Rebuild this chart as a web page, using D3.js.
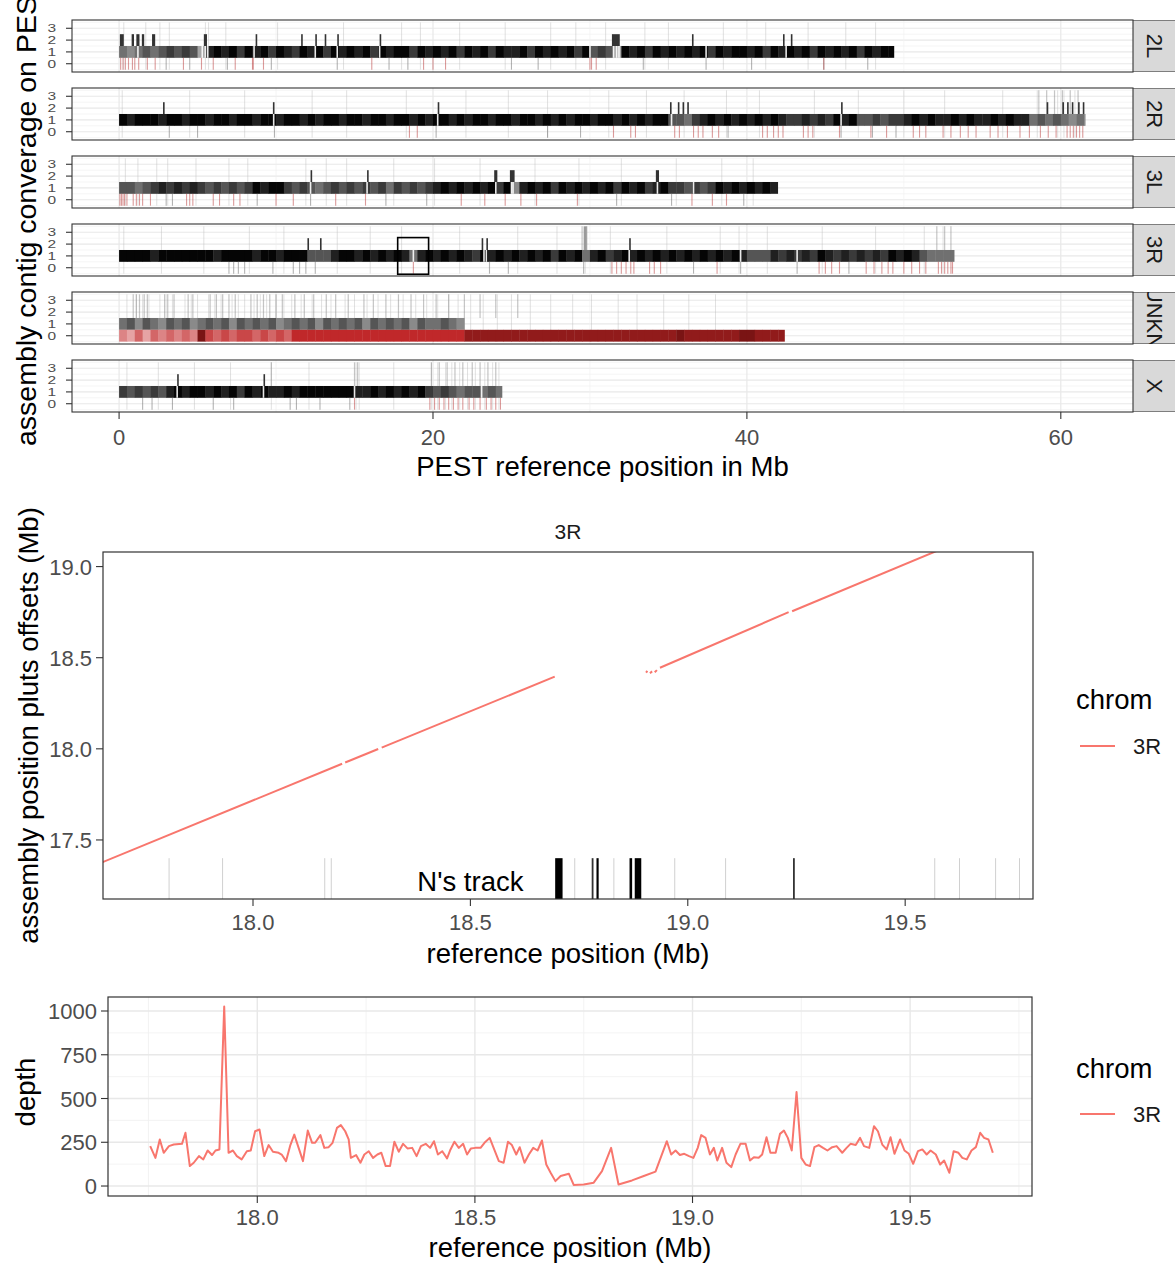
<!DOCTYPE html>
<html lang="en">
<head>
<meta charset="utf-8">
<title>assembly contig coverage / 3R</title>
<script src="https://d3js.org/d3.v7.min.js"></script>
<style>
  body { margin: 0; background: #fff; }
  svg text { font-family: "Liberation Sans", Arial, Helvetica, sans-serif; }
</style>
</head>
<body>
<svg id="chart" width="1175" height="1263"></svg>
<script>
// ---------- top panel: coverage per chromosome ----------
var chroms = ["2L", "2R", "3L", "3R", "UNKN", "X"];
var chromLen = [49.36, 61.55, 41.96, 53.20, 42.39, 24.39];

// shade of the coverage=1 band, one digit per 0.5 Mb (0 none .. 9 black)
var band1Shade = [
  "5456567676" + "3898979897" + "9879897989" + "8979899798" + "9897989798" + "8979898979" + "6763989798" + "9898979899" + "8979898979" + "898979899",
  "9899989989" + "9899899899" + "8998989989" + "9899899898" + "9989899899" + "8998989899" + "8998989899" + "6657898989" + "8989877878" + "7989667677" + "8989889898" + "8989885656" + "5454",
  "6656787878" + "7676767989" + "9767656767" + "6767576767" + "8989898979" + "4898979898" + "9897989789" + "7767679898" + "9898",
  "9999899999" + "9989999899" + "8999666899" + "8989898589" + "8989879898" + "9898979895" + "8978989898" + "9898989898" + "6668787879" + "8787878798" + "9865555",
  "5646546564" + "5656465656" + "4565646565" + "6465656465" + "5654",
  "7676768989" + "9898979898" + "8989999999" + "8898989897" + "676566565"
];
// shade of the coverage=0 (red) band, 0.5 Mb bins
var band0Shade = ["", "", "", "",
  "3242434343" + "9545455454" + "5466666666" + "6666666666" + "6666888888" + "8888888888" + "8888888888" + "8988888889" + "98888",
  ""];

// coverage 2 / 3 blocks: [start, end, level]
var lvl2Ticks = [
  [[0.05,0.3,2],[0.8,0.95,2],[1.1,1.3,2],[1.45,1.6,2],[2.1,2.3,2],[5.4,5.6,2],[8.7,8.75,2],[11.6,11.65,2],[12.5,12.55,2],[13.1,13.15,2],[13.9,13.95,2],[16.6,16.65,2],[31.4,31.9,2],[36.5,36.55,2],[42.3,42.35,2],[42.8,42.85,2]],
  [[2.8,2.85,2],[9.8,9.85,2],[20.3,20.35,2],[35.1,35.15,2],[35.6,35.65,2],[35.9,35.95,2],[36.2,36.25,2],[46.0,46.05,2],[59.1,59.15,2],[60.1,60.15,2],[60.4,60.45,2],[60.7,60.75,2],[61.1,61.15,2],[61.4,61.45,2]],
  [[12.2,12.3,2],[15.8,15.85,2],[23.9,24.1,2],[24.9,25.2,2],[34.2,34.4,2]],
  [[12.0,12.05,2],[12.8,12.85,2],[23.1,23.15,2],[23.4,23.45,2],[29.6,29.8,3],[32.5,32.55,2]],
  [],
  [[3.7,3.75,2],[9.2,9.25,2]]
];
// white breaks in the coverage=1 band
var gapTicks = [
  [1.2,5.3,5.5,5.65,8.6,12.5,13.9,16.6,30.0,31.5,31.7,31.85,37.4,42.5],
  [9.85,20.3,35.2,46.0],
  [12.2,15.8,24.0,25.0,25.1,34.3,36.6],
  [18.75,23.25,23.4,32.5,39.6,43.2],
  [],
  [3.7,9.2,15.0,23.1]
];
// coverage 0 ticks, red and grey
var lvl0Red = [
  [0.1,0.25,0.4,0.6,0.85,1.0,1.25,1.8,2.3,4.1,5.25,6.0,7.4,8.5,8.55,9.2,16.1,19.4,20.0,20.8,30.0,30.1,30.4,44.9],
  [18.5,19.0,31.5,32.6,32.9,35.4,35.7,36.6,36.9,37.2,37.8,38.2,41.0,41.3,41.7,42.0,42.3,43.6,43.9,44.2,45.9,47.9,48.9,50.6,51.0,51.4,52.5,53.0,53.6,54.1,54.6,55.5,56.0,56.6,57.4,58.0,58.7,59.2,59.7,60.4,60.6,60.8,61.0,61.2,61.4],
  [0.05,0.15,0.25,0.35,0.5,0.9,1.1,1.3,1.5,2.0,4.3,4.5,4.7,6.0,6.4,7.3,7.7,10.0,11.1,13.8,15.7,21.8,23.3,24.6,25.6,26.6,29.2,36.5,37.8,38.7],
  [18.75,31.4,31.7,32.0,32.3,32.6,32.8,33.8,34.1,34.5,38.1,44.6,45.0,45.4,45.9,47.6,48.1,48.6,49.0,49.3,50.0,50.5,51.0,51.4,52.2,52.4,52.6,52.8,53.0,53.1],
  [],
  [15.0,19.8,20.1,20.4,20.7,21.0,21.3,21.6,21.9,22.3,22.6,23.0,23.4,23.7,24.0,24.3]
];
var lvl0Gray = [
  [3.0,4.5,6.9,9.7,13.9,17.2,18.4,25.0,26.7,33.4,37.4,40.3,44.9,47.7],
  [3.2,5.0,9.9,20.2,27.3,29.4,38.8,46.0,48.0,49.5],
  [3.0,3.4,8.8,12.2,17.0,19.6,31.7,35.2,39.8],
  [7.0,7.3,7.6,8.0,9.8,11.1,11.5,11.9,12.5,23.6,24.8,29.6,36.6,39.6,43.2,46.5],
  [],
  [1.5,2.1,3.4,6.0,7.3,10.9,11.3,12.8,14.7]
];
// light lines over the whole facet height
var faintTicks = [
  [0.3,1.7,2.6,3.2,5.5,5.7,6.8,10.1,14.3,18.0,19.2,21.7,24.6,27.5,29.1,31.0,33.5,35.0,38.5,41.2,43.9,46.3,48.2],
  [0.2,4.5,8.0,12.3,14.5,18.3,22.1,24.8,27.3,31.2,33.6,36.0,38.7,40.8,44.3,47.1,50.0,52.6,56.3,58.5,59.8,60.2,60.9],
  [0.4,1.2,2.4,3.1,4.9,7.0,8.2,11.9,13.2,14.5,17.5,20.1,23.0,26.5,29.3,32.0,35.5,38.4,40.4],
  [0.3,2.7,5.4,8.3,10.5,13.9,16.0,18.0,21.7,25.4,27.9,29.7,31.3,34.9,38.3,39.5,41.3,44.8,48.2,51.3,52.5],
  [0.5,1.1,1.5,1.9,2.6,3.0,3.4,4.2,4.6,5.0,5.7,6.1,6.5,7.2,7.6,8.0,8.6,9.0,9.4,10.0,10.5,11.0,11.6,12.3,12.9,13.5,14.4,15.0,15.8,16.5,17.3,18.1,18.9,19.6,20.3,21.0,21.6,22.4,23.2,24.1,25.0,26.2,27.5,28.9,30.1,31.8,33.0,34.7,36.3,38.0],
  [0.5,2.5,4.8,7.1,9.7,12.1,15.1,15.3,17.5,19.9,20.3,20.8,21.2,21.7,22.2,22.7,23.3,23.8,24.2]
];
// greyish lines at coverage 2-3
var upFaint = [
  [],
  [58.6,59.1,59.6,60.1,60.6,61.1],
  [],
  [29.5,29.8,52.1,52.6,53.0],
  [0.9,1.1,1.3,1.6,1.8,2.9,3.1,3.5,4.4,4.7,5.8,6.2,6.6,7.0,7.4,8.4,8.8,9.2,9.6,10.0,10.4,11.2,11.8,12.4,13.2,13.8,14.6,15.6,16.2,17.0,17.8,18.6,19.4,20.2,21.0,22.0,23.0,24.0,25.4],
  [9.7,15.0,15.2,19.9,20.4,20.9,21.4,21.9,22.5,23.0,23.5,24.0]
];
var zoomBox = {chrom: "3R", x: [17.75, 19.72], y: [-0.55, 2.55]};
var topTicksX = [0, 20, 40, 60];
var topTicksY = [0, 1, 2, 3];

// ---------- middle panel: alignment on 3R ----------
var alignRef = [[17.60,18.205],[18.212,18.288],[18.296,18.694],[18.904,18.907],[18.913,18.918],[18.924,18.929],[18.936,19.232],[19.240,19.62]];
var alignAsm = [[17.325,17.918],[17.925,17.999],[18.007,18.396],[18.418,18.428],[18.415,18.425],[18.420,18.432],[18.445,18.750],[18.755,19.133]];
var nDark = [[18.695,18.712],[18.779,18.783],[18.790,18.795],[18.866,18.872],[18.878,18.893],[19.242,19.246]];
var nLight = [17.807,17.93,18.165,18.18,18.74,18.83,18.97,19.087,19.568,19.625,19.708,19.763];
var nTrackTop = 17.4;
var midTicksX = [18.0, 18.5, 19.0, 19.5];
var midTicksY = [17.5, 18.0, 18.5, 19.0];

// ---------- bottom panel: depth ----------
var depthPos = [17.754,17.766,17.776,17.785,17.797,17.808,17.827,17.835,17.845,17.854,
  17.866,17.876,17.886,17.896,17.904,17.913,17.924,17.934,17.944,17.953,
  17.964,17.976,17.985,17.995,18.005,18.016,18.026,18.036,18.049,18.056,
  18.066,18.076,18.085,18.095,18.105,18.116,18.126,18.133,18.145,18.154,
  18.164,18.173,18.183,18.192,18.202,18.210,18.215,18.227,18.237,18.246,
  18.256,18.266,18.276,18.285,18.295,18.305,18.315,18.325,18.335,18.345,
  18.356,18.366,18.376,18.387,18.397,18.406,18.415,18.425,18.436,18.444,
  18.453,18.463,18.473,18.482,18.491,18.501,18.513,18.522,18.534,18.543,
  18.555,18.566,18.576,18.585,18.595,18.603,18.614,18.624,18.634,18.644,
  18.654,18.664,18.674,18.685,18.697,18.716,18.727,18.750,18.773,18.792,
  18.813,18.830,18.861,18.888,18.915,18.941,18.951,18.961,18.971,18.981,
  18.992,19.002,19.012,19.020,19.030,19.040,19.049,19.057,19.068,19.078,
  19.089,19.099,19.110,19.122,19.132,19.141,19.152,19.160,19.170,19.179,
  19.191,19.201,19.210,19.219,19.228,19.239,19.250,19.260,19.270,19.280,
  19.290,19.300,19.310,19.321,19.331,19.344,19.354,19.363,19.375,19.385,
  19.394,19.406,19.417,19.426,19.436,19.446,19.455,19.464,19.477,19.487,
  19.497,19.507,19.518,19.528,19.538,19.547,19.559,19.569,19.578,19.590,
  19.600,19.611,19.620,19.630,19.641,19.651,19.661,19.670,19.680,19.690];
var depthVal = [228,161,266,190,228,237,241,304,114,133,
  171,152,203,177,203,209,1026,190,203,171,
  152,199,203,313,323,171,234,196,190,180,
  142,234,294,218,142,317,247,247,291,218,
  222,247,332,348,313,266,161,177,133,180,
  199,161,180,190,114,114,253,196,241,215,
  218,171,228,241,218,256,180,199,158,209,
  253,218,241,180,215,218,218,247,275,218,
  142,133,253,234,180,222,133,180,218,203,
  260,123,76,28,57,70,6,9,19,85,
  218,9,32,57,82,256,180,203,177,184,
  171,161,218,291,275,180,218,146,218,133,
  108,180,241,241,146,165,161,180,279,190,
  190,298,317,275,203,537,161,123,114,222,
  234,218,203,222,228,190,218,241,234,275,
  228,218,342,313,237,209,279,184,266,203,
  184,127,199,209,180,203,180,123,146,76,
  199,190,161,152,203,222,304,275,266,190];
var botTicksX = [18.0, 18.5, 19.0, 19.5];
var botTicksY = [0, 250, 500, 750, 1000];
var legendName = "chrom", legendKey = "3R";

var lineCol = "#F8766D";
var tickCol = "#4d4d4d";
var gridMajor = "#e8e8e8", gridMinor = "#f0f0f0";

var svg = d3.select("#chart");
var defs = svg.append("defs");
function clip(id, x, y, w, h) {
  defs.append("clipPath").attr("id", id).append("rect")
    .attr("x", x).attr("y", y).attr("width", w).attr("height", h);
}

// ================= TOP =================
var topX = d3.scaleLinear().domain([-3.0, 64.6]).range([72, 1133]);
var grayShade = d3.scaleLinear().domain([1, 9]).range(["#dadada", "#050505"]);
var redShade = d3.scaleLinear().domain([1, 6, 9]).range(["#efc2c2", "#c0282a", "#7a1414"]);

function bins(str, len) {
  return str.split("").map(function(d, k) {
    return {x0: k * 0.5, x1: Math.min((k + 1) * 0.5, len), v: +d};
  }).filter(function(d) { return d.v > 0 && d.x0 < len; });
}

chroms.forEach(function(name, i) {
  var top = 20 + i * 68, bot = top + 52;
  var y = d3.scaleLinear().domain([-0.7, 3.7]).range([bot, top]);
  var len = chromLen[i];
  clip("fc" + i, 72, top, 1061, 52);
  var g = svg.append("g").attr("clip-path", "url(#fc" + i + ")");

  g.selectAll(".hmin").data([-0.5, 0.5, 1.5, 2.5, 3.5]).enter().append("line")
    .attr("x1", 72).attr("x2", 1133).attr("y1", y).attr("y2", y)
    .attr("stroke", gridMinor).attr("stroke-width", 0.7);
  g.selectAll(".hmaj").data(topTicksY).enter().append("line")
    .attr("x1", 72).attr("x2", 1133).attr("y1", y).attr("y2", y)
    .attr("stroke", gridMajor).attr("stroke-width", 1.2);
  g.selectAll(".vmin").data([10, 30, 50]).enter().append("line")
    .attr("x1", topX).attr("x2", topX).attr("y1", top).attr("y2", bot)
    .attr("stroke", gridMinor).attr("stroke-width", 0.7);
  g.selectAll(".vmaj").data(topTicksX).enter().append("line")
    .attr("x1", topX).attr("x2", topX).attr("y1", top).attr("y2", bot)
    .attr("stroke", gridMajor).attr("stroke-width", 1.2);

  g.selectAll(".fnt").data(faintTicks[i]).enter().append("line")
    .attr("x1", topX).attr("x2", topX).attr("y1", y(3.5)).attr("y2", y(-0.5))
    .attr("stroke", "#bdbdbd").attr("stroke-width", 1).attr("opacity", 0.45);
  g.selectAll(".upf").data(upFaint[i]).enter().append("line")
    .attr("x1", topX).attr("x2", topX).attr("y1", y(3.5)).attr("y2", y(1.5))
    .attr("stroke", "#8c8c8c").attr("stroke-width", 1.2).attr("opacity", 0.5);

  // coverage 1 band
  g.selectAll(".b1").data(bins(band1Shade[i], len)).enter().append("rect")
    .attr("x", function(d) { return topX(d.x0); })
    .attr("width", function(d) { return topX(d.x1) - topX(d.x0) + 0.4; })
    .attr("y", y(1.5)).attr("height", y(0.5) - y(1.5))
    .attr("fill", function(d) { return grayShade(d.v); });
  // coverage 0 band
  g.selectAll(".b0").data(bins(band0Shade[i], len)).enter().append("rect")
    .attr("x", function(d) { return topX(d.x0); })
    .attr("width", function(d) { return topX(d.x1) - topX(d.x0) + 0.4; })
    .attr("y", y(0.5)).attr("height", y(-0.5) - y(0.5))
    .attr("fill", function(d) { return redShade(d.v); });

  g.selectAll(".l0g").data(lvl0Gray[i]).enter().append("line")
    .attr("x1", topX).attr("x2", topX).attr("y1", y(0.5)).attr("y2", y(-0.5))
    .attr("stroke", "#6a6a6a").attr("stroke-width", 1.1).attr("opacity", 0.5);
  g.selectAll(".l0r").data(lvl0Red[i]).enter().append("line")
    .attr("x1", topX).attr("x2", topX).attr("y1", y(0.5)).attr("y2", y(-0.5))
    .attr("stroke", "#b22222").attr("stroke-width", 1.1).attr("opacity", 0.45);

  g.selectAll(".gap").data(gapTicks[i]).enter().append("line")
    .attr("x1", topX).attr("x2", topX).attr("y1", y(1.5)).attr("y2", y(0.5))
    .attr("stroke", "#fff").attr("stroke-width", 1.6).attr("opacity", 0.9);

  g.selectAll(".l2").data(lvl2Ticks[i]).enter().append("rect")
    .attr("x", function(d) { return topX(d[0]); })
    .attr("width", function(d) { return Math.max(1.6, topX(d[1]) - topX(d[0])); })
    .attr("y", function(d) { return y(d[2] + 0.5); })
    .attr("height", function(d) { return y(1.5) - y(d[2] + 0.5); })
    .attr("fill", function(d) { return d[2] > 2 ? "#9a9a9a" : "#333"; });

  if (name === zoomBox.chrom) {
    svg.append("rect")
      .attr("x", topX(zoomBox.x[0])).attr("width", topX(zoomBox.x[1]) - topX(zoomBox.x[0]))
      .attr("y", y(zoomBox.y[1])).attr("height", y(zoomBox.y[0]) - y(zoomBox.y[1]))
      .attr("fill", "none").attr("stroke", "#000").attr("stroke-width", 1.6);
  }

  svg.append("rect").attr("x", 72).attr("y", top).attr("width", 1061).attr("height", 52)
    .attr("fill", "none").attr("stroke", "#333").attr("stroke-width", 1.1);

  // y axis (labels are squeezed vertically, as in the source)
  topTicksY.forEach(function(v) {
    svg.append("line").attr("x1", 66).attr("x2", 72).attr("y1", y(v)).attr("y2", y(v))
      .attr("stroke", "#333").attr("stroke-width", 1.1);
    svg.append("text").attr("transform", "translate(56," + y(v) + ") scale(1,0.7)")
      .attr("y", 5.5).attr("text-anchor", "end").attr("font-size", 15.5)
      .attr("fill", tickCol).text(v);
  });

  // strip
  clip("st" + i, 1133, top, 44, 52);
  var s = svg.append("g").attr("clip-path", "url(#st" + i + ")");
  s.append("rect").attr("x", 1133).attr("y", top).attr("width", 44).attr("height", 52)
    .attr("fill", "#d9d9d9").attr("stroke", "#333").attr("stroke-width", 1.1);
  s.append("text").attr("transform", "translate(1155," + (top + 26) + ") rotate(90)")
    .attr("text-anchor", "middle").attr("dy", "0.36em").attr("font-size", 22)
    .attr("fill", "#1a1a1a").text(name);
});

// top x axis
topTicksX.forEach(function(v) {
  svg.append("line").attr("x1", topX(v)).attr("x2", topX(v)).attr("y1", 412).attr("y2", 419)
    .attr("stroke", "#333").attr("stroke-width", 1.1);
  svg.append("text").attr("x", topX(v)).attr("y", 445).attr("text-anchor", "middle")
    .attr("font-size", 22).attr("fill", tickCol).text(v);
});
svg.append("text").attr("x", 602.5).attr("y", 476).attr("text-anchor", "middle")
  .attr("font-size", 27.5).text("PEST reference position in Mb");
// the source image crops this title at its top edge
svg.append("text").attr("transform", "translate(36,446) rotate(-90)")
  .attr("text-anchor", "start").attr("font-size", 28.5)
  .text("assembly contig converage on PEST");

// ================= MIDDLE =================
var midX = d3.scaleLinear().domain([17.655, 19.794]).range([103, 1033]);
var midY = d3.scaleLinear().domain([17.176, 19.08]).range([899, 552]);
clip("mid", 103, 552, 930, 347);
var gm = svg.append("g").attr("clip-path", "url(#mid)");

gm.selectAll(".nl").data(nLight).enter().append("line")
  .attr("x1", midX).attr("x2", midX).attr("y1", midY(nTrackTop)).attr("y2", 899)
  .attr("stroke", "#d0d0d0").attr("stroke-width", 1);
gm.selectAll(".nd").data(nDark).enter().append("rect")
  .attr("x", function(d) { return midX(d[0]); })
  .attr("width", function(d) { return Math.max(1.8, midX(d[1]) - midX(d[0])); })
  .attr("y", midY(nTrackTop)).attr("height", 899 - midY(nTrackTop))
  .attr("fill", function(d) { return d[1] - d[0] < 0.005 ? "#333" : "#000"; });

var segLine = d3.line().x(function(d) { return midX(d[0]); }).y(function(d) { return midY(d[1]); });
alignRef.forEach(function(r, k) {
  gm.append("path").attr("d", segLine([[r[0], alignAsm[k][0]], [r[1], alignAsm[k][1]]]))
    .attr("fill", "none").attr("stroke", lineCol).attr("stroke-width", 2);
});
gm.append("text").attr("x", midX(18.5)).attr("y", midY(17.27) + 9).attr("text-anchor", "middle")
  .attr("font-size", 27.5).attr("fill", "#000").text("N's track");

svg.append("rect").attr("x", 103).attr("y", 552).attr("width", 930).attr("height", 347)
  .attr("fill", "none").attr("stroke", "#333").attr("stroke-width", 1.2);
svg.append("text").attr("x", 568).attr("y", 539).attr("text-anchor", "middle")
  .attr("font-size", 21).attr("fill", "#1a1a1a").text("3R");

midTicksY.forEach(function(v) {
  svg.append("line").attr("x1", 96).attr("x2", 103).attr("y1", midY(v)).attr("y2", midY(v))
    .attr("stroke", "#333").attr("stroke-width", 1.1);
  svg.append("text").attr("x", 92).attr("y", midY(v) + 8).attr("text-anchor", "end")
    .attr("font-size", 22).attr("fill", tickCol).text(d3.format(".1f")(v));
});
midTicksX.forEach(function(v) {
  svg.append("line").attr("x1", midX(v)).attr("x2", midX(v)).attr("y1", 899).attr("y2", 906)
    .attr("stroke", "#333").attr("stroke-width", 1.1);
  svg.append("text").attr("x", midX(v)).attr("y", 930).attr("text-anchor", "middle")
    .attr("font-size", 22).attr("fill", tickCol).text(d3.format(".1f")(v));
});
svg.append("text").attr("x", 568).attr("y", 963).attr("text-anchor", "middle")
  .attr("font-size", 27.5).text("reference position (Mb)");
svg.append("text").attr("transform", "translate(38,725.5) rotate(-90)")
  .attr("text-anchor", "middle").attr("font-size", 27.5)
  .text("assembly position pluts offsets (Mb)");

// ================= BOTTOM =================
var botX = d3.scaleLinear().domain([17.657, 19.78]).range([108, 1032]);
var botY = d3.scaleLinear().domain([-57, 1080]).range([1196, 997]);
clip("bot", 108, 997, 924, 199);
var gb = svg.append("g").attr("clip-path", "url(#bot)");
gb.selectAll(".gy0").data([125, 375, 625, 875]).enter().append("line")
  .attr("x1", 108).attr("x2", 1032).attr("y1", botY).attr("y2", botY)
  .attr("stroke", gridMinor).attr("stroke-width", 0.8);
gb.selectAll(".gx0").data([17.75, 18.25, 18.75, 19.25, 19.75]).enter().append("line")
  .attr("x1", botX).attr("x2", botX).attr("y1", 997).attr("y2", 1196)
  .attr("stroke", gridMinor).attr("stroke-width", 0.8);
gb.selectAll(".gy1").data(botTicksY).enter().append("line")
  .attr("x1", 108).attr("x2", 1032).attr("y1", botY).attr("y2", botY)
  .attr("stroke", gridMajor).attr("stroke-width", 1.4);
gb.selectAll(".gx1").data(botTicksX).enter().append("line")
  .attr("x1", botX).attr("x2", botX).attr("y1", 997).attr("y2", 1196)
  .attr("stroke", gridMajor).attr("stroke-width", 1.4);

var depthLine = d3.line().x(function(d) { return botX(d[0]); }).y(function(d) { return botY(d[1]); });
gb.append("path").attr("d", depthLine(d3.zip(depthPos, depthVal)))
  .attr("fill", "none").attr("stroke", lineCol).attr("stroke-width", 2).attr("stroke-linejoin", "round");

svg.append("rect").attr("x", 108).attr("y", 997).attr("width", 924).attr("height", 199)
  .attr("fill", "none").attr("stroke", "#333").attr("stroke-width", 1.2);
botTicksY.forEach(function(v) {
  svg.append("line").attr("x1", 101).attr("x2", 108).attr("y1", botY(v)).attr("y2", botY(v))
    .attr("stroke", "#333").attr("stroke-width", 1.1);
  svg.append("text").attr("x", 97).attr("y", botY(v) + 8).attr("text-anchor", "end")
    .attr("font-size", 22).attr("fill", tickCol).text(v);
});
botTicksX.forEach(function(v) {
  svg.append("line").attr("x1", botX(v)).attr("x2", botX(v)).attr("y1", 1196).attr("y2", 1203)
    .attr("stroke", "#333").attr("stroke-width", 1.1);
  svg.append("text").attr("x", botX(v)).attr("y", 1225).attr("text-anchor", "middle")
    .attr("font-size", 22).attr("fill", tickCol).text(d3.format(".1f")(v));
});
svg.append("text").attr("x", 570).attr("y", 1257).attr("text-anchor", "middle")
  .attr("font-size", 27.5).text("reference position (Mb)");
svg.append("text").attr("transform", "translate(35,1092) rotate(-90)")
  .attr("text-anchor", "middle").attr("font-size", 27.5).text("depth");

// legends
[[709, 746], [1078, 1114]].forEach(function(p) {
  svg.append("text").attr("x", 1076).attr("y", p[0]).attr("font-size", 27.5).text(legendName);
  svg.append("line").attr("x1", 1080).attr("x2", 1115).attr("y1", p[1]).attr("y2", p[1])
    .attr("stroke", lineCol).attr("stroke-width", 2.2);
  svg.append("text").attr("x", 1133).attr("y", p[1] + 8).attr("font-size", 22)
    .attr("fill", "#1a1a1a").text(legendKey);
});
</script>
</body>
</html>
